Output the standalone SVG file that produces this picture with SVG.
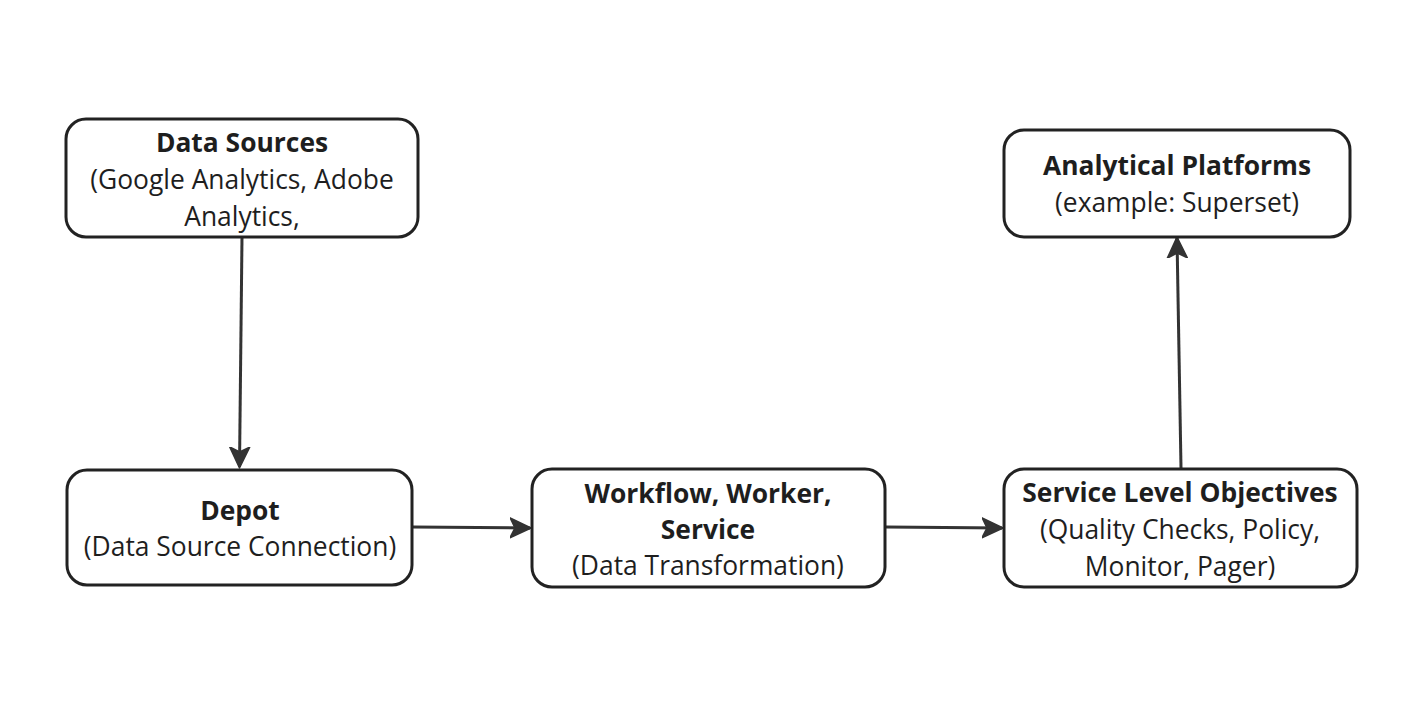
<svg xmlns="http://www.w3.org/2000/svg" width="1417" height="705" viewBox="0 0 1417 705">
<style>
.box{fill:#fff;stroke:#222;stroke-width:3}
.t{font-family:"Open Sans","Noto Sans",sans-serif;font-size:26.4px;fill:#1e1e1e;text-anchor:middle}
.b{font-weight:bold}
.c{fill:none;stroke:#333;stroke-width:3}
</style>
<defs>
<marker id="ah" viewBox="0 0 22 22" refX="20" refY="11" markerWidth="22" markerHeight="22" markerUnits="userSpaceOnUse" orient="auto">
<path d="M0,1 L21,11 L0,21 L5,11 Z" fill="#333" stroke="#333" stroke-width="1.5" stroke-linejoin="round"/>
</marker>
</defs>
<rect width="1417" height="705" fill="#fff"/>
<g id="connectors">
<path class="c" d="M242,237 L239.5,467" marker-end="url(#ah)"/>
<path class="c" d="M413,527 L530,528" marker-end="url(#ah)"/>
<path class="c" d="M886,527 L1002,528" marker-end="url(#ah)"/>
<path class="c" d="M1181,468 L1177,238" marker-end="url(#ah)"/>
</g>
<g id="data-sources">
<rect class="box" x="66" y="119" width="352" height="118" rx="20"/>
<text class="t b" x="242" y="152">Data Sources</text>
<text class="t" x="242" y="189">(Google Analytics, Adobe</text>
<text class="t" x="242" y="226">Analytics,</text>
</g>
<g id="depot">
<rect class="box" x="67" y="470" width="345" height="115" rx="20"/>
<text class="t b" x="240" y="520">Depot</text>
<text class="t" x="240" y="556">(Data Source Connection)</text>
</g>
<g id="workflow">
<rect class="box" x="532" y="469" width="353" height="118" rx="20"/>
<text class="t b" x="708" y="503">Workflow, Worker,</text>
<text class="t b" x="708" y="539">Service</text>
<text class="t" x="708" y="575">(Data Transformation)</text>
</g>
<g id="slo">
<rect class="box" x="1004" y="469" width="353" height="118" rx="20"/>
<text class="t b" x="1180" y="502">Service Level Objectives</text>
<text class="t" x="1180" y="539">(Quality Checks, Policy,</text>
<text class="t" x="1180" y="576">Monitor, Pager)</text>
</g>
<g id="analytical-platforms">
<rect class="box" x="1004" y="130" width="346" height="107" rx="20"/>
<text class="t b" x="1177" y="175">Analytical Platforms</text>
<text class="t" x="1177" y="212">(example: Superset)</text>
</g>
</svg>
